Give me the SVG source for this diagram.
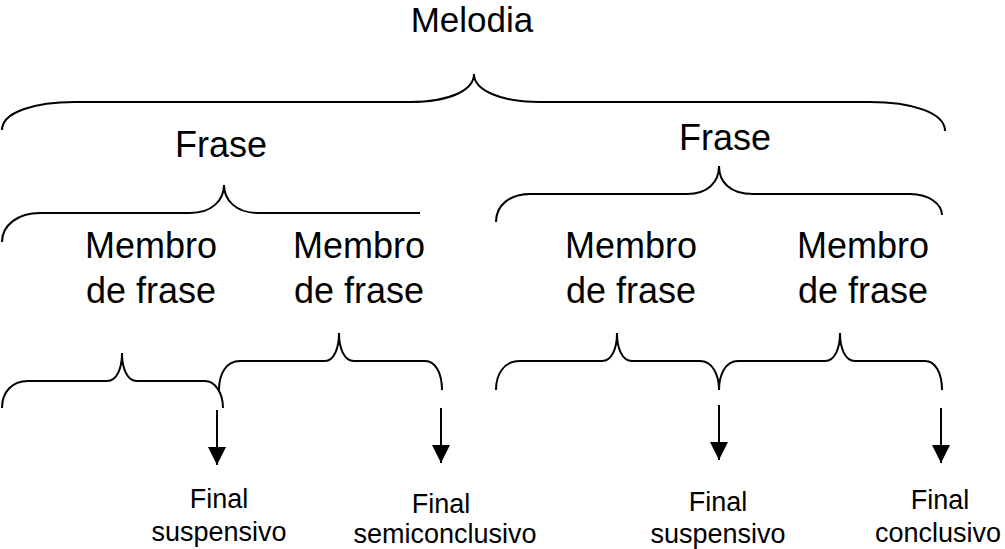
<svg xmlns="http://www.w3.org/2000/svg" width="1005" height="549" viewBox="0 0 1005 549">
<style>
.b{fill:none;stroke:#000;stroke-width:2}
.a{stroke:#000;stroke-width:2}
.t{font-family:"Liberation Sans",Arial,sans-serif;fill:#000;text-anchor:middle}
.L{font-size:36px}
.s{font-size:27px}
</style>
<defs>
<marker id="ah" markerUnits="userSpaceOnUse" markerWidth="18" markerHeight="18" refX="18" refY="9" orient="auto">
<path d="M0,0 L18,9 L0,18 z" fill="#000"/>
</marker>
</defs>
<rect width="1005" height="549" fill="#fff"/>
<g id="melodia"><text class="t" style="font-size:35px" x="472" y="32">Melodia</text></g>
<g id="frase1"><text class="t L" x="221" y="157">Frase</text></g>
<g id="frase2"><text class="t L" x="725" y="150">Frase</text></g>
<g id="membro1"><text class="t L" x="151" y="258">Membro</text><text class="t L" x="151" y="303">de frase</text></g>
<g id="membro2"><text class="t L" x="359" y="258">Membro</text><text class="t L" x="359" y="303">de frase</text></g>
<g id="membro3"><text class="t L" x="631" y="258">Membro</text><text class="t L" x="631" y="303">de frase</text></g>
<g id="membro4"><text class="t L" x="863" y="258">Membro</text><text class="t L" x="863" y="303">de frase</text></g>
<g id="final1"><text class="t s" x="219" y="508">Final</text><text class="t s" x="219" y="541">suspensivo</text></g>
<g id="final2"><text class="t s" x="441" y="513">Final</text><text class="t s" x="445" y="543">semiconclusivo</text></g>
<g id="final3"><text class="t s" x="718" y="511">Final</text><text class="t s" x="718" y="543">suspensivo</text></g>
<g id="final4"><text class="t s" x="940" y="509">Final</text><text class="t s" x="938" y="542">conclusivo</text></g>
<g id="connectors">
<path class="b" d="M2,130 C2,112 35,102 75,102 L410,102 C450,102 474,90 474,74 C474,90 500,102 540,102 L870,102 C910,102 945,112 945,131"/>
<path class="b" d="M2,242 C2,225 18,213 40,213 L190,213 C212,213 224,200 224,185 C224,200 236,213 258,213 L420,213"/>
<path class="b" d="M496,222 C496,205 510,194 530,194 L687,194 C708,194 719,182 719,166 C719,182 730,194 753,194 L910,194 C930,194 942,205 942,215"/>
<path class="b" d="M2,408 C2,392 12,381 28,381 L107,381 C117,381 122,368 122,353 C122,368 127,381 137,381 L205,381 C215,381 223,393 223,408"/>
<path class="b" d="M219,390 C219,374 226,361 240,361 L325,361 C334,361 339,348 339,333 C339,348 344,361 354,361 L425,361 C436,361 442,374 442,390"/>
<path class="b" d="M496,390 C496,374 504,361 520,361 L602,361 C612,361 617,348 617,333 C617,348 622,361 632,361 L700,361 C712,361 719,374 719,390 C719,374 726,361 738,361 L825,361 C835,361 840,348 840,333 C840,348 845,361 855,361 L925,361 C936,361 942,374 942,390"/>
<line class="a" x1="217" y1="410" x2="217" y2="465" marker-end="url(#ah)"/>
<line class="a" x1="441" y1="408" x2="441" y2="463" marker-end="url(#ah)"/>
<line class="a" x1="719" y1="405" x2="719" y2="460" marker-end="url(#ah)"/>
<line class="a" x1="941" y1="408" x2="941" y2="463" marker-end="url(#ah)"/>
</g>
</svg>
